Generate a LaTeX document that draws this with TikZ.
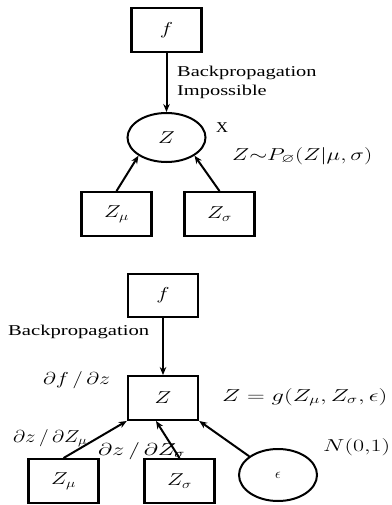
\documentclass[tikz,border=0pt]{standalone}
\usepackage{fontspec}
\setmainfont{Liberation Serif}
\usepackage{amssymb}
\usetikzlibrary{arrows.meta,shapes.geometric}
\newcommand{\sx}[1]{\scalebox{1.3}[1]{#1}}
\newcommand{\fitw}[2]{\resizebox{#1}{\height}{#2}}
\begin{document}
\begin{tikzpicture}[x=1pt,y=-1pt,
  box/.style={draw,line width=2.4pt,minimum width=70pt,minimum height=43.5pt,inner sep=0pt,font=\fontsize{18}{21}\selectfont},
  ell/.style={draw,ellipse,line width=2pt,inner sep=0pt,minimum width=78pt,font=\fontsize{18}{21}\selectfont},
  arr/.style={-{Stealth[length=8pt,width=6.5pt]},line width=2pt},
  lbl/.style={inner sep=0pt,anchor=west,font=\fontsize{15}{19}\selectfont},
  mlbl/.style={lbl,font=\fontsize{17.5}{21}\selectfont}]
\useasboundingbox (0,0) rectangle (391,505);
% top diagram
\node[box] (f1) at (166.5,30) {\sx{$f$}};
\node[ell,minimum height=49pt] (z1) at (166.5,137.5) {\sx{$Z$}};
\node[box] (m1) at (116.5,214) {\sx{$Z_\mu$}};
\node[box] (s1) at (219.5,214) {\sx{$Z_\sigma$}};
\draw[arr] (f1.south) -- (z1.north);
\draw[arr] (m1.north) -- (z1.-147);
\draw[arr] (s1.north) -- (z1.-33);
\node[lbl] (bp1) at (177,82.5) {\scalebox{1.36}[1]{\begin{tabular}{@{}l@{}}Backpropagation\\Impossible\end{tabular}}};
\node[lbl] (x1) at (216,128) {\scalebox{1.1}[1]{X}};
\node[mlbl] (p1) at (232,156) {\fitw{140pt}{$Z{\sim}P_{\varnothing}(Z|\mu,\sigma)$}};
% bottom diagram
\node[box] (f2) at (163,295.5) {\sx{$f$}};
\node[box] (z2) at (163,398) {\sx{$Z$}};
\node[box] (m2) at (63.5,481) {\sx{$Z_\mu$}};
\node[box] (s2) at (179.5,481) {\sx{$Z_\sigma$}};
\node[ell,minimum height=52pt,font=\fontsize{15}{18}\selectfont] (e) at (278,475) {$\epsilon$};
\draw[arr] (f2.south) -- (z2.north);
\draw[arr] (m2.north) -- (z2.south west);
\draw[arr] (s2.north) -- ([xshift=-7pt]z2.south);
\draw[arr] (e.147) -- (z2.south east);
\node[lbl] (bp2) at (8,332) {\fitw{141pt}{Backpropagation}};
\node[mlbl] (dfdz) at (43,380) {\fitw{67pt}{$\partial f\,/\,\partial z$}};
\node[mlbl] (g) at (222,397) {\fitw{165pt}{$Z=g(Z_\mu,Z_\sigma,\epsilon)$}};
\node[mlbl] (dzm) at (13,438) {\fitw{74pt}{$\partial z\,/\,\partial Z_\mu$}};
\node[mlbl] (dzs) at (98,451) {\fitw{87pt}{$\partial z\,/\,\partial Z_\sigma$}};
\node[mlbl] (n01) at (323,447) {\fitw{67pt}{$N(0{,}1)$}};
\end{tikzpicture}
\end{document}
